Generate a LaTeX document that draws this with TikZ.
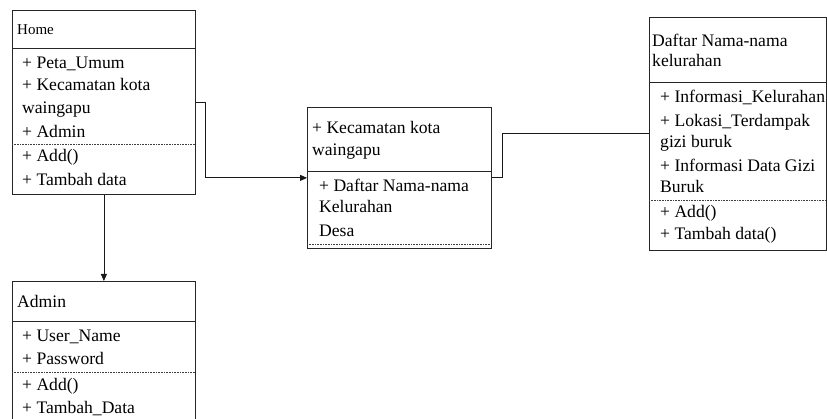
\documentclass[tikz,border=0pt]{standalone}
\usepackage{fontspec}
\setmainfont{Liberation Serif}
\usetikzlibrary{arrows.meta}
\begin{document}
\begin{tikzpicture}[x=1pt,y=-1pt,
  box/.style={draw=black!85, line width=0.8pt, anchor=north west, inner sep=0pt},
  sepline/.style={draw=black!85, line width=0.8pt},
  dotline/.style={draw=black!75, line width=0.6pt, dash pattern=on 0.8pt off 0.8pt},
  txt/.style={anchor=base west, inner sep=0pt, font=\fontsize{17.6}{20}\selectfont},
  smalltxt/.style={anchor=base west, inner sep=0pt, font=\fontsize{15}{18}\selectfont},
  conn/.style={draw=black!90, line width=0.8pt},
  arr/.style={conn, -{Triangle[length=7pt,width=6pt]}}]
\useasboundingbox (0,0) rectangle (827,419);

% Home
\node[box, minimum width=183pt, minimum height=184pt] (home) at (12,10) {};
\draw[sepline] (home.north west) ++(0,38) -- ++(183,0);
\draw[dotline] (home.north west) ++(0,134) -- ++(183,0);
\node[smalltxt] (h0) at (17,35) {Home};
\node[txt] (h1) at (22,69) {+ Peta\_Umum};
\node[txt] (h2) at (22,91) {+ Kecamatan kota};
\node[txt] (h3) at (22,114) {waingapu};
\node[txt] (h4) at (22,138) {+ Admin};
\node[txt] (h5) at (22,162) {+ Add()};
\node[txt] (h6) at (22,186) {+ Tambah data};

% Kecamatan
\node[box, minimum width=184pt, minimum height=141pt] (kec) at (307,107) {};
\draw[sepline] (kec.north west) ++(0,64) -- ++(184,0);
\draw[dotline] (kec.north west) ++(0,137) -- ++(184,0);
\node[txt] (k1) at (312,134) {+ Kecamatan kota};
\node[txt] (k2) at (312,156) {waingapu};
\node[txt] (k3) at (319,192) {+ Daftar Nama-nama};
\node[txt] (k4) at (319,213) {Kelurahan};
\node[txt] (k5) at (319,237) {Desa};

% Daftar
\node[box, minimum width=177pt, minimum height=233pt] (daftar) at (649,17) {};
\draw[sepline] (daftar.north west) ++(0,65) -- ++(177,0);
\draw[dotline] (daftar.north west) ++(0,183) -- ++(177,0);
\node[txt] (d0) at (652,47) {Daftar Nama-nama};
\node[txt] (d1) at (652,67) {kelurahan};
\node[txt] (d2) at (660,103) {+ Informasi\_Kelurahan};
\node[txt] (d3) at (660,127) {+ Lokasi\_Terdampak};
\node[txt] (d4) at (660,148) {gizi buruk};
\node[txt] (d5) at (660,172) {+ Informasi Data Gizi};
\node[txt] (d6) at (660,193) {Buruk};
\node[txt] (d7) at (660,218) {+ Add()};
\node[txt] (d8) at (660,240) {+ Tambah data()};

% Admin
\node[box, minimum width=183pt, minimum height=150pt] (admin) at (12,281) {};
\draw[sepline] (admin.north west) ++(0,40) -- ++(183,0);
\draw[dotline] (admin.north west) ++(0,91) -- ++(183,0);
\node[txt] (a0) at (17,308) {Admin};
\node[txt] (a1) at (22,342) {+ User\_Name};
\node[txt] (a2) at (22,364) {+ Password};
\node[txt] (a3) at (22,391) {+ Add()};
\node[txt] (a4) at (22,413) {+ Tambah\_Data};

% connectors
\draw[arr] (home.east) -- ++(10,0) |- (kec.west);
\draw[conn] (kec.east) -- ++(11,0) |- (daftar.west);
\draw[arr] (home.south) -- (home.south |- admin.north);
\end{tikzpicture}
\end{document}
